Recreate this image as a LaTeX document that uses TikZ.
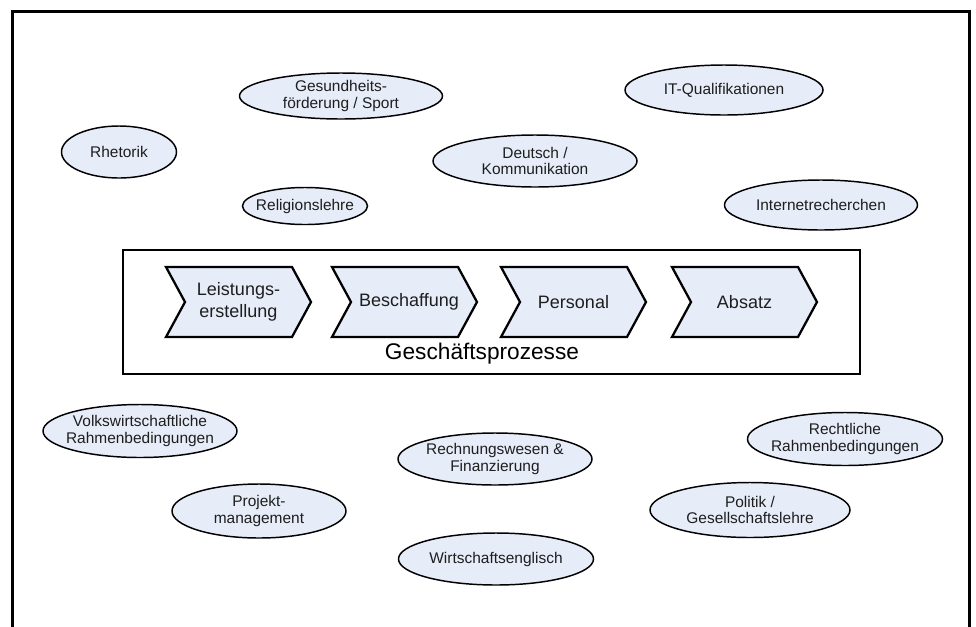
\documentclass[tikz,border=0pt]{standalone}
\usepackage{fontspec}
\setmainfont{Liberation Sans}
\usetikzlibrary{shapes.geometric}
\definecolor{pale}{RGB}{230,236,248}
\definecolor{ink}{RGB}{30,30,30}
\tikzset{
  topic/.style={ellipse, draw=black, line width=1.1pt, fill=pale, inner xsep=-14pt, inner ysep=-6pt,
    align=center, text=ink, font=\fontsize{11.6}{12.6}\selectfont},
  chevline/.style={draw=black, line width=1.7pt, fill=pale, line join=miter},
  chevtext/.style={align=center, text=ink, inner sep=0pt, font=\fontsize{13.5}{16.3}\selectfont},
  frameline/.style={draw=black, line width=2.25pt},
  boxline/.style={draw=black, line width=1.7pt}
}
\newcommand\chevronat[1]{%
  \draw[chevline] (#1,267) -- ++(126,0) -- ++(19,35) -- ++(-19,35) -- ++(-126,0) -- ++(19,-35) -- cycle;}
\begin{document}
\begin{tikzpicture}[x=0.75pt,y=-0.75pt]
\useasboundingbox (0,0) rectangle (976,626);
\begin{scope}
\clip (0,0) rectangle (976,626);
\draw[frameline] (12.5,640) -- (12.5,11.5) -- (969,11.5) -- (969,640);
\end{scope}
% ellipses
\node[topic, minimum width=115*0.75pt, minimum height=52*0.75pt] (rhet) at (119,152) {Rhetorik};
\node[topic, minimum width=203*0.75pt, minimum height=46*0.75pt] (gesund) at (341,96) {Gesundheits-\\förderung / Sport};
\node[topic, minimum width=125*0.75pt, minimum height=37*0.75pt] (relig) at (305,206) {Religionslehre};
\node[topic, minimum width=204*0.75pt, minimum height=52*0.75pt] (deutsch) at (535,161) {Deutsch /\\Kommunikation};
\node[topic, minimum width=198*0.75pt, minimum height=50*0.75pt] (itq) at (724,90) {IT-Qualifikationen};
\node[topic, minimum width=193*0.75pt, minimum height=50*0.75pt] (inet) at (821,205) {Internetrecherchen};
\node[topic, minimum width=194*0.75pt, minimum height=53*0.75pt] (volks) at (140,431) {Volkswirtschaftliche\\Rahmenbedingungen};
\node[topic, minimum width=194*0.75pt, minimum height=52*0.75pt] (rechn) at (495,459) {Rechnungswesen \&\\Finanzierung};
\node[topic, minimum width=195*0.75pt, minimum height=53*0.75pt] (recht) at (845,439) {Rechtliche\\Rahmenbedingungen};
\node[topic, minimum width=174*0.75pt, minimum height=54*0.75pt] (projekt) at (259,511) {Projekt-\\management};
\node[topic, minimum width=200*0.75pt, minimum height=55*0.75pt] (politik) at (750,510) {Politik /\\Gesellschaftslehre};
\node[topic, minimum width=195*0.75pt, minimum height=52*0.75pt] (wirt) at (496,559) {Wirtschaftsenglisch};
% process box
\draw[boxline] (123,250) rectangle (860,374);
\chevronat{166}
\chevronat{332}
\chevronat{501}
\chevronat{672}
\node[chevtext] (leist) at (238.5,302) {Leistungs-\\erstellung};
\node[chevtext] (besch) at (409,302) {Beschaffung};
\node[chevtext] (pers) at (573.5,302) {Personal};
\node[chevtext] (abs) at (744.5,302) {Absatz};
\node[inner sep=0pt, text=black, font=\fontsize{17}{20}\selectfont] (gp) at (482,354) {Geschäftsprozesse};
\end{tikzpicture}
\end{document}
